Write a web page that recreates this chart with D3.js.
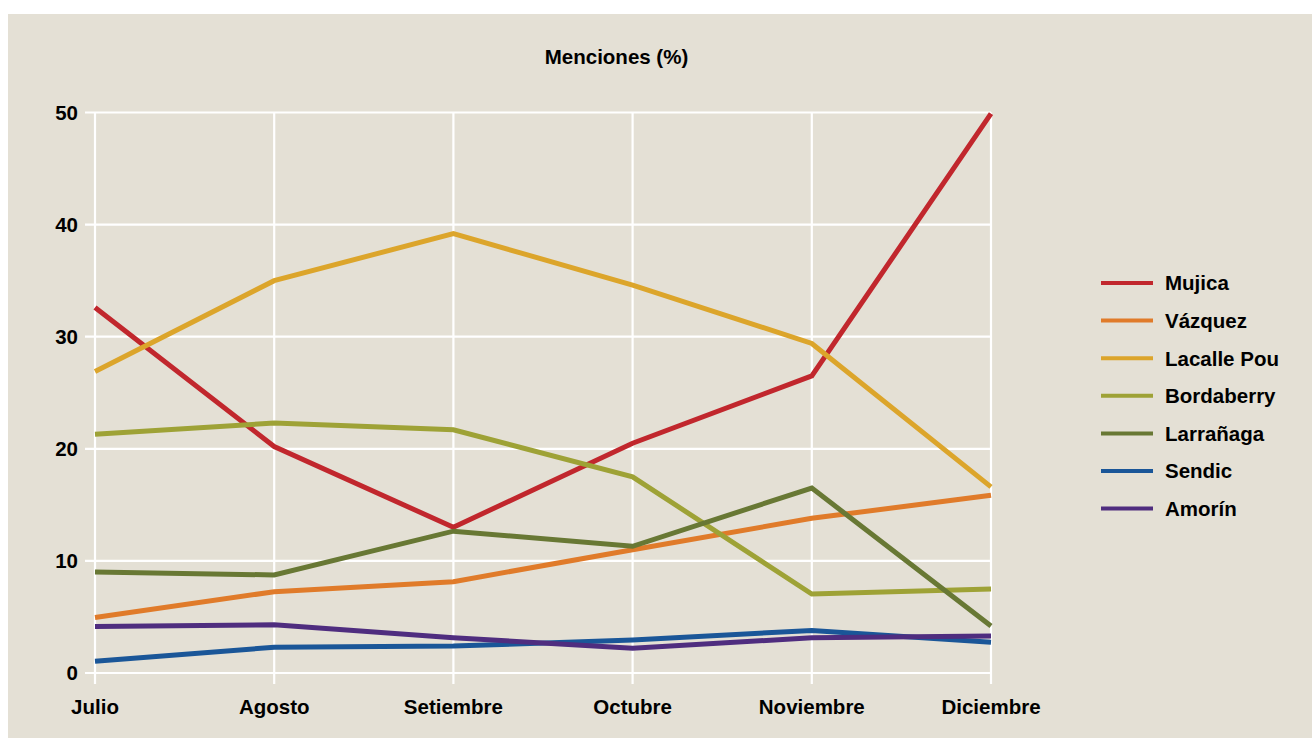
<!DOCTYPE html>
<html>
<head>
<meta charset="utf-8">
<script src="https://cdn.jsdelivr.net/npm/d3@7"></script>
<style>
  html, body { margin: 0; padding: 0; background: #ffffff; }
  svg { display: block; }
  text { font-family: "Liberation Sans", Arial, Helvetica, sans-serif; font-weight: bold; fill: #000; }
</style>
</head>
<body>
<script>
const months = ["Julio", "Agosto", "Setiembre", "Octubre", "Noviembre", "Diciembre"];
const seriesNames = ["Mujica", "Vázquez", "Lacalle Pou", "Bordaberry", "Larrañaga", "Sendic", "Amorín"];
const mujica     = [32.6, 20.2, 13.0, 20.5, 26.5, 49.9];
const vazquez    = [4.95, 7.25, 8.15, 11.0, 13.8, 15.85];
const lacallePou = [26.9, 35.0, 39.2, 34.6, 29.4, 16.6];
const bordaberry = [21.3, 22.3, 21.7, 17.5, 7.05, 7.5];
const larranaga  = [9.0, 8.75, 12.65, 11.3, 16.5, 4.2];
const sendic     = [1.05, 2.3, 2.4, 2.95, 3.8, 2.75];
const amorin     = [4.15, 4.3, 3.15, 2.2, 3.15, 3.3];
const yTicks = [0, 10, 20, 30, 40, 50];
const colors = ["#c1272d", "#e07b2a", "#dca52b", "#9ea236", "#687834", "#1a5698", "#4f2d7f"];
const titleText = "Menciones (%)";

const allValues = [mujica, vazquez, lacallePou, bordaberry, larranaga, sendic, amorin];
const series = seriesNames.map((name, i) => ({ name, color: colors[i], values: allValues[i] }));

const W = 1312, H = 738;
const FS = 20.5;
const svg = d3.select("body").append("svg").attr("width", W).attr("height", H);

// panel background
svg.append("rect").attr("x", 8).attr("y", 14).attr("width", W - 8).attr("height", H - 14).attr("fill", "#e4e0d5");

const x = d3.scalePoint().domain(months).range([95, 991]);
const y = d3.scaleLinear().domain([0, 50]).range([673, 112.5]);

const grid = svg.append("g");
grid.selectAll("line.h").data(yTicks).join("line")
  .attr("x1", 85).attr("x2", 991)
  .attr("y1", d => y(d)).attr("y2", d => y(d))
  .attr("stroke", "#ffffff").attr("stroke-width", 2.2);
grid.selectAll("line.v").data(months).join("line")
  .attr("x1", d => x(d)).attr("x2", d => x(d))
  .attr("y1", y(50)).attr("y2", 684)
  .attr("stroke", "#ffffff").attr("stroke-width", 2.2);

// y axis labels
svg.append("g").selectAll("text").data(yTicks).join("text")
  .attr("x", 78).attr("y", d => y(d)).attr("dy", "0.36em")
  .attr("text-anchor", "end").attr("font-size", FS)
  .text(d => d);

// x axis labels
svg.append("g").selectAll("text").data(months).join("text")
  .attr("x", d => x(d)).attr("y", 714)
  .attr("text-anchor", "middle").attr("font-size", FS)
  .text(d => d);

// title
svg.append("text").attr("x", 616.5).attr("y", 64)
  .attr("text-anchor", "middle").attr("font-size", FS)
  .text(titleText);

// lines
const line = d3.line().x((d, i) => x(months[i])).y(d => y(d));
svg.append("g").selectAll("path").data(series).join("path")
  .attr("d", d => line(d.values))
  .attr("fill", "none")
  .attr("stroke", d => d.color)
  .attr("stroke-width", 5)
  .attr("stroke-linejoin", "miter");

// legend
const lg = svg.append("g");
const rows = lg.selectAll("g").data(series).join("g")
  .attr("transform", (d, i) => `translate(0, ${283 + i * 37.6})`);
rows.append("line").attr("x1", 1101).attr("x2", 1153).attr("y1", 0).attr("y2", 0)
  .attr("stroke", d => d.color).attr("stroke-width", 4);
rows.append("text").attr("x", 1165).attr("y", 0).attr("dy", "0.36em")
  .attr("font-size", FS).text(d => d.name);
</script>
</body>
</html>
